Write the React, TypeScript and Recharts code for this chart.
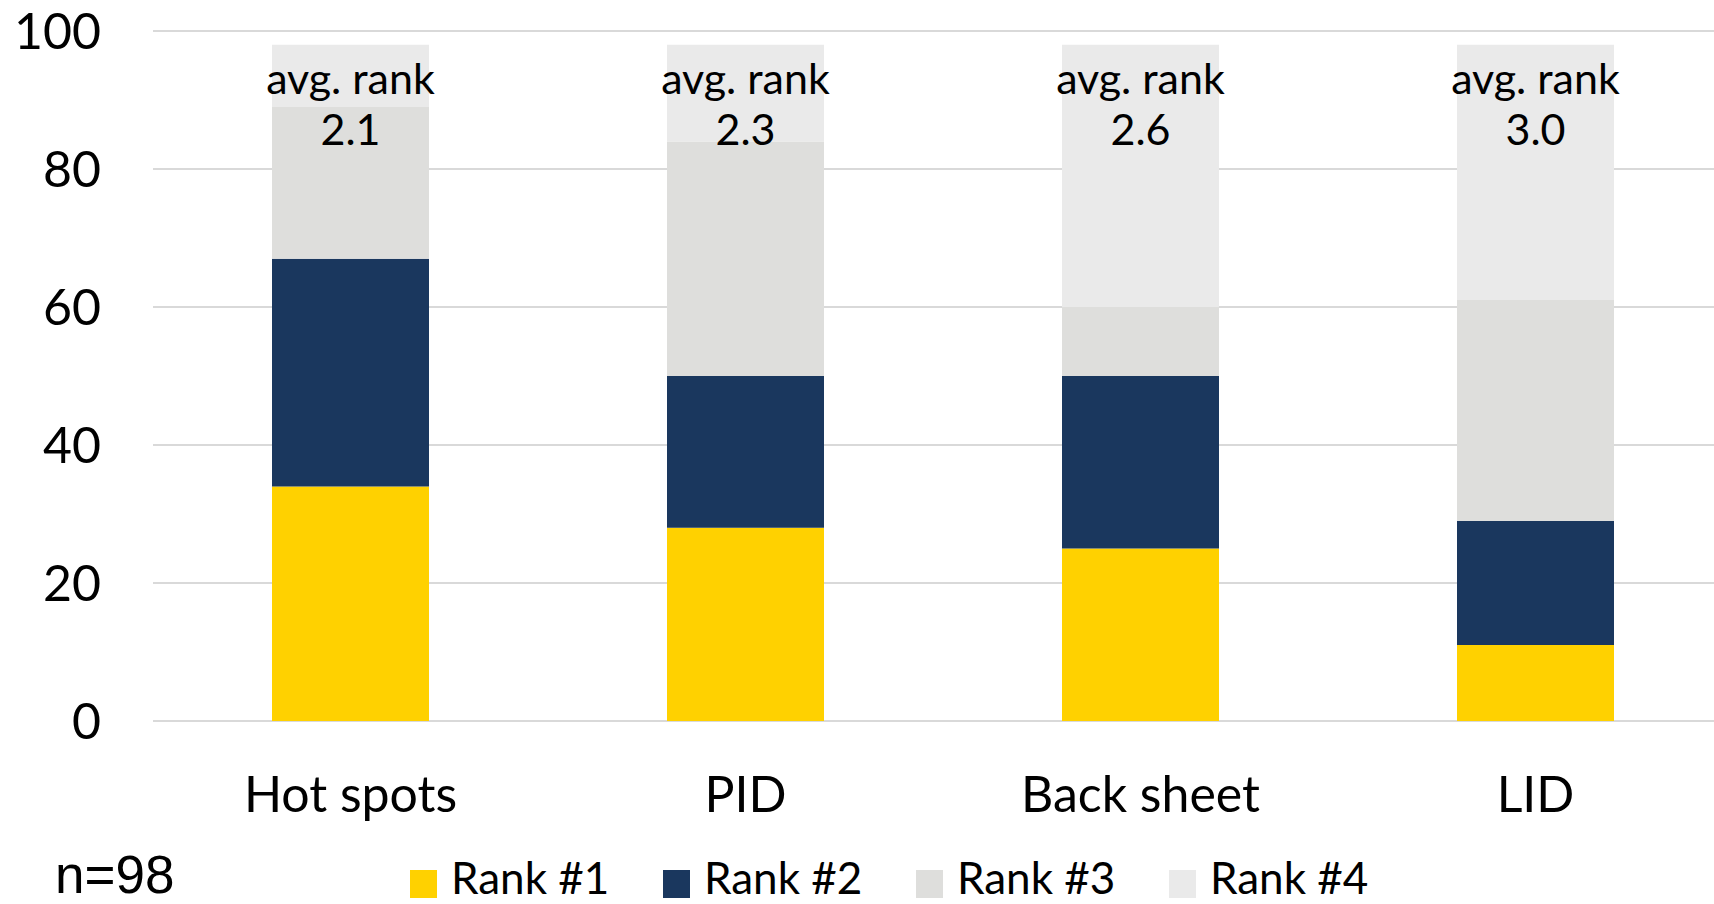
import { BarChart, Bar, XAxis, YAxis, CartesianGrid, LabelList } from "recharts";

const categories = ["Hot spots", "PID", "Back sheet", "LID"];
const rank1 = [34, 28, 25, 11];
const rank2 = [33, 22, 25, 18];
const rank3 = [22, 34, 10, 32];
const rank4 = [9, 14, 38, 37];
const avgRank = [2.1, 2.3, 2.6, 3.0];
const yTicks = [0, 20, 40, 60, 80, 100];

const seriesNames = ["Rank #1", "Rank #2", "Rank #3", "Rank #4"];
const seriesColors = ["#FFD100", "#1A375E", "#DEDEDC", "#EAEAEA"];

const data = categories.map((name, i) => ({
    name,
    r1: rank1[i],
    r2: rank2[i],
    r3: rank3[i],
    r4: rank4[i],
    avg: avgRank[i],
}));

const font = "Lato, 'Noto Sans', sans-serif";

// two-line "avg. rank" label sitting inside the top of each stack
const AvgLabel = (props: any) => {
    const { x, y, width, value } = props;
    const cx = Number(x) + Number(width) / 2;
    return (
        <text x={cx} y={Number(y) + 49} textAnchor="middle" fontSize={43} fontFamily={font} fill="#000">
            <tspan x={cx}>avg. rank</tspan>
            <tspan x={cx} dy={51}>{Number(value).toFixed(1)}</tspan>
        </text>
    );
};

export default function App() {
    return (
        <div style={{ position: "absolute", left: 0, top: 0, width: 1714, height: 904, overflow: "hidden", background: "#fff", fontFamily: font }}>
            <BarChart width={1733} height={904} data={data} margin={{ top: 31, right: 0, left: 0, bottom: 63 }}>
                <CartesianGrid vertical={false} stroke="#D9D9D9" strokeWidth={2} />
                <XAxis
                    dataKey="name"
                    axisLine={false}
                    tickLine={false}
                    tickSize={0}
                    tickMargin={55}
                    height={120}
                    tick={{ fill: "#000", fontSize: 50, fontFamily: font }}
                />
                <YAxis
                    domain={[0, 100]}
                    ticks={yTicks}
                    axisLine={false}
                    tickLine={false}
                    tickSize={0}
                    tickMargin={52}
                    width={153}
                    tick={{ fill: "#000", fontSize: 50, fontFamily: font }}
                />
                <Bar dataKey="r1" stackId="a" fill={seriesColors[0]} barSize={157} isAnimationActive={false} />
                <Bar dataKey="r2" stackId="a" fill={seriesColors[1]} barSize={157} isAnimationActive={false} />
                <Bar dataKey="r3" stackId="a" fill={seriesColors[2]} barSize={157} isAnimationActive={false} />
                <Bar dataKey="r4" stackId="a" fill={seriesColors[3]} barSize={157} isAnimationActive={false}>
                    <LabelList dataKey="avg" content={AvgLabel} />
                </Bar>
            </BarChart>

            <div style={{ position: "absolute", left: 55, top: 856, fontFamily: "'Liberation Sans', Arial, sans-serif", fontSize: 53, color: "#000", lineHeight: "38px" }}>
                n=98
            </div>

            <div style={{ position: "absolute", left: 410, top: 857, display: "flex" }}>
                {seriesNames.map((s, i) => (
                    <div key={s} style={{ width: 253, display: "flex", alignItems: "center", height: 40 }}>
                        <div style={{ width: 27, height: 28, background: seriesColors[i], marginRight: 14, position: "relative", top: 7 }} />
                        <span style={{ fontSize: 44, lineHeight: "40px", color: "#000", fontFamily: font }}>{s}</span>
                    </div>
                ))}
            </div>
        </div>
    );
}
